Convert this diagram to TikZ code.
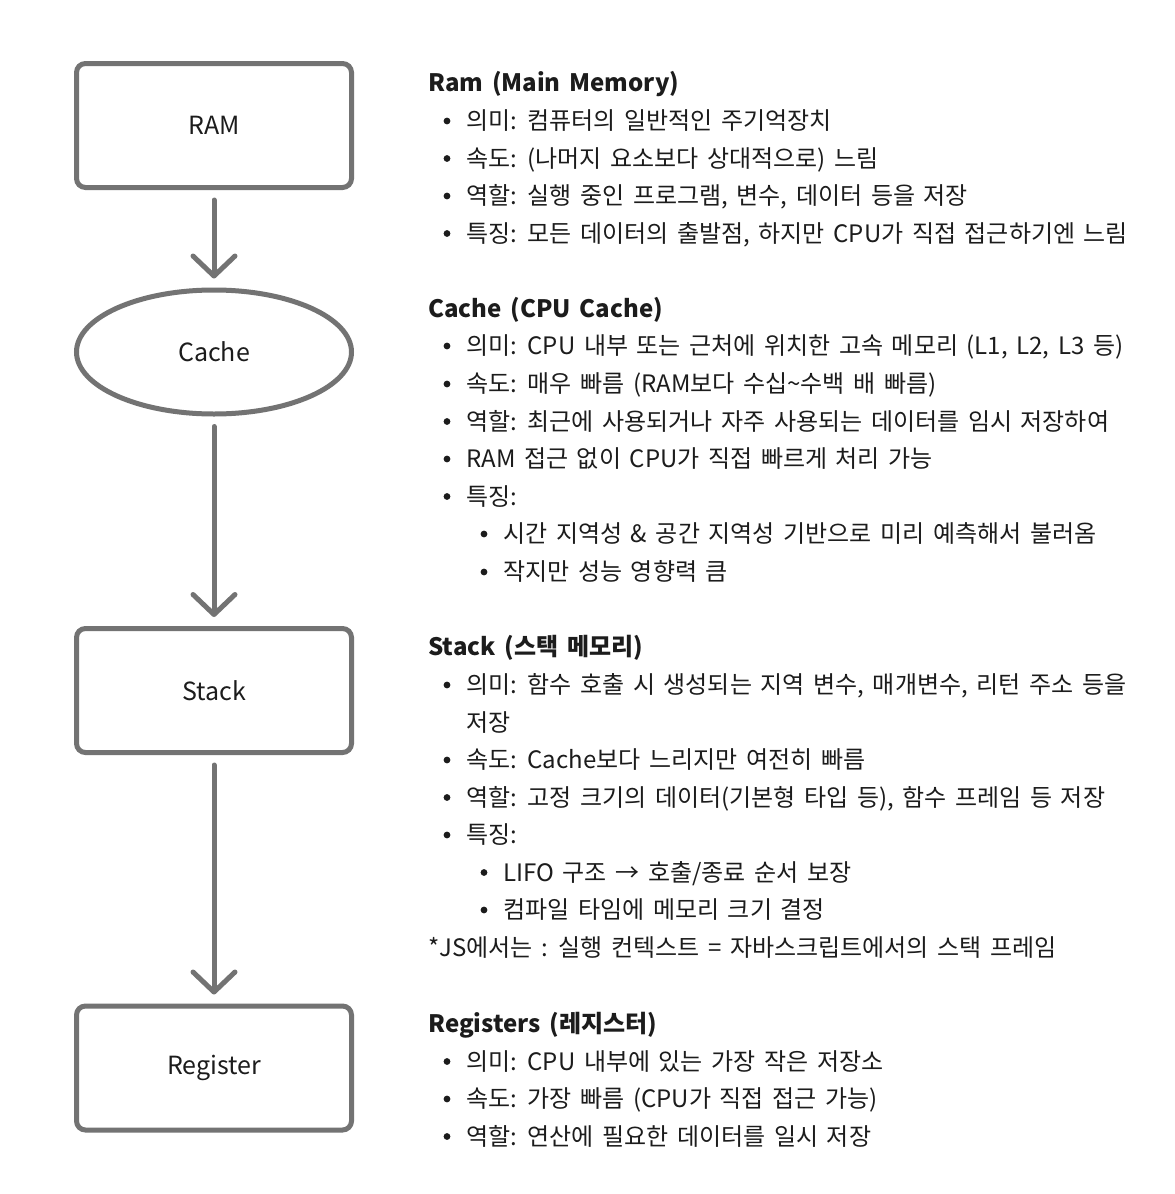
\documentclass[tikz,border=0pt]{standalone}
\usepackage{fontspec}
\setmainfont{Noto Sans CJK KR}[WordSpace=1.6]
\usetikzlibrary{arrows.meta,shapes.geometric}
\definecolor{boxc}{HTML}{737373}
\definecolor{txtc}{HTML}{1C1C1C}
\tikzset{
  blk/.style={draw=boxc, line width=2.5pt, fill=white, minimum width=137.5pt, minimum height=62pt, inner sep=0pt, text=txtc, font=\fontsize{12.5}{14}\selectfont},
  rbox/.style={blk, rectangle, rounded corners=4.5pt},
  ebox/.style={blk, ellipse},
  flow/.style={draw=boxc, line width=2.5pt, line cap=round, -{Straight Barb[length=10pt,width=21pt,round]}, shorten <=5pt, shorten >=4.5pt},
  ttl/.style={anchor=base west, inner sep=0pt, text=txtc, font=\fontsize{12}{14}\selectfont\bfseries},
  txt/.style={anchor=base west, inner sep=0pt, text=txtc, font=\fontsize{12}{14}\selectfont},
  dot/.style={fill=txtc}
}
\newcommand\bl[3]{\fill[dot] (447,#2) circle[radius=1.7pt]; \node[txt] (#1) at (466,{#2+8.5}) {#3};}
\newcommand\sbl[3]{\fill[dot] (484,#2) circle[radius=1.7pt]; \node[txt] (#1) at (503,{#2+8.5}) {#3};}
\newcommand\plain[4]{\node[txt] (#1) at (#2,{#3+8.5}) {#4};}
\newcommand\ttlline[3]{\node[ttl] (#1) at (428,{#2+8.5}) {#3};}
\begin{document}
\begin{tikzpicture}[x=0.5pt,y=-0.5pt]
\useasboundingbox[fill=white] (0,0) rectangle (1174,1194);
% flow column
\node[rbox] (ram) at (214,125.5) {RAM};
\node[ebox] (cache) at (214,352) {Cache};
\node[rbox] (stack) at (214,690.5) {Stack};
\node[rbox] (reg) at (214,1068) {Register};
\draw[flow] (ram) -- (cache);
\draw[flow] (cache) -- (stack);
\draw[flow] (stack) -- (reg);
% RAM text
\ttlline{t1}{83}{Ram (Main Memory)}
\bl{a1}{121}{의미: 컴퓨터의 일반적인 주기억장치}
\bl{a2}{158.5}{속도: (나머지 요소보다 상대적으로) 느림}
\bl{a3}{196}{역할: 실행 중인 프로그램, 변수, 데이터 등을 저장}
\bl{a4}{233.5}{특징: 모든 데이터의 출발점, 하지만 CPU가 직접 접근하기엔 느림}
% Cache text
\ttlline{t2}{308.5}{Cache (CPU Cache)}
\bl{b1}{346}{의미: CPU 내부 또는 근처에 위치한 고속 메모리 (L1, L2, L3 등)}
\bl{b2}{384}{속도: 매우 빠름 (RAM보다 수십\textasciitilde 수백 배 빠름)}
\bl{b3}{421.5}{역할: 최근에 사용되거나 자주 사용되는 데이터를 임시 저장하여}
\bl{b4}{459}{RAM 접근 없이 CPU가 직접 빠르게 처리 가능}
\bl{b5}{496.5}{특징:}
\sbl{b6}{534}{시간 지역성 \& 공간 지역성 기반으로 미리 예측해서 불러옴}
\sbl{b7}{572}{작지만 성능 영향력 큼}
% Stack text
\ttlline{t3}{647}{Stack (스택 메모리)}
\bl{c1}{685}{의미: 함수 호출 시 생성되는 지역 변수, 매개변수, 리턴 주소 등을}
\plain{c1b}{466}{722.5}{저장}
\bl{c2}{760}{속도: Cache보다 느리지만 여전히 빠름}
\bl{c3}{797.5}{역할: 고정 크기의 데이터(기본형 타입 등), 함수 프레임 등 저장}
\bl{c4}{835}{특징:}
\sbl{c5}{872.5}{LIFO 구조 → 호출/종료 순서 보장}
\sbl{c6}{910}{컴파일 타임에 메모리 크기 결정}
\plain{c7}{428}{948}{*JS에서는 : 실행 컨텍스트 = 자바스크립트에서의 스택 프레임}
% Registers text
\ttlline{t4}{1024}{Registers (레지스터)}
\bl{d1}{1061.5}{의미: CPU 내부에 있는 가장 작은 저장소}
\bl{d2}{1099}{속도: 가장 빠름 (CPU가 직접 접근 가능)}
\bl{d3}{1136.5}{역할: 연산에 필요한 데이터를 일시 저장}
\end{tikzpicture}
\end{document}
